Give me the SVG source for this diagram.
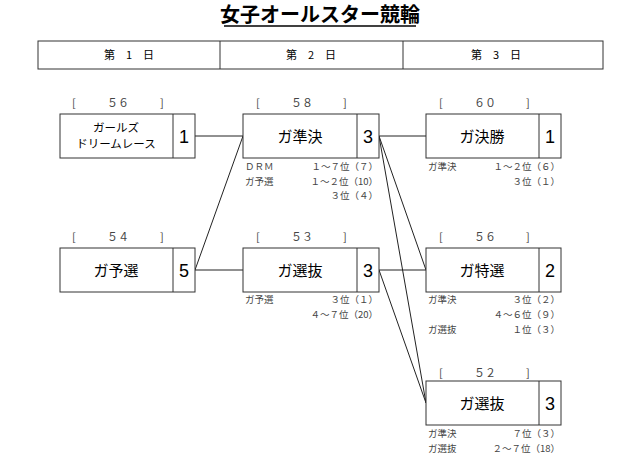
<svg xmlns="http://www.w3.org/2000/svg" width="640" height="459" viewBox="0 0 640 459">
<style>
text{font-family:"Noto Sans CJK JP","Liberation Sans",sans-serif;fill:#000}
.b{fill:#fff;stroke:#333;stroke-width:1}
.n{font-size:15px;text-anchor:middle}
.num{font-size:18px;text-anchor:middle;font-family:"Liberation Sans",sans-serif}
.s{font-size:9.5px;fill:#444}
.r{font-size:9.5px;fill:#444;text-anchor:end}
.h{font-size:11px;fill:#444}
.c line{stroke:#222;stroke-width:1}
</style>
<rect width="640" height="459" fill="#fff"/>
<text x="320" y="22" font-size="20" font-weight="bold" text-anchor="middle">女子オールスター競輪</text>
<line x1="224" y1="26" x2="416" y2="26" stroke="#000" stroke-width="1.5"/>
<g id="header">
<rect x="38" y="41" width="565" height="28" fill="none" stroke="#333"/>
<line x1="220" y1="41" x2="220" y2="69" stroke="#333"/>
<line x1="403" y1="41" x2="403" y2="69" stroke="#333"/>
<text x="129" y="59" font-size="11" text-anchor="middle">第　1　日</text>
<text x="311" y="59" font-size="11" text-anchor="middle">第　2　日</text>
<text x="496" y="59" font-size="11" text-anchor="middle">第　3　日</text>
</g>
<g class="c" id="connectors">
<line x1="195" y1="136" x2="243" y2="136"/>
<line x1="195" y1="270" x2="243" y2="136"/>
<line x1="195" y1="270" x2="243" y2="270"/>
<line x1="379" y1="136" x2="426" y2="136"/>
<line x1="379" y1="136" x2="426" y2="270"/>
<line x1="379" y1="136" x2="426" y2="403"/>
<line x1="379" y1="270" x2="426" y2="270"/>
<line x1="379" y1="270" x2="426" y2="403"/>
</g>
<g id="n56a">
<text x="72" y="107" class="h">[</text><text x="118" y="107" class="h" text-anchor="middle">５６</text><text x="160" y="107" class="h">]</text>
<rect x="60" y="114" width="135" height="44" class="b"/><line x1="173" y1="114" x2="173" y2="158" stroke="#333"/>
<text x="116" y="132" font-size="11.5" text-anchor="middle">ガールズ</text>
<text x="116" y="148" font-size="11.5" text-anchor="middle">ドリームレース</text>
<text x="184" y="143" class="num">1</text>
</g>
<g id="n54">
<text x="72" y="241" class="h">[</text><text x="118" y="241" class="h" text-anchor="middle">５４</text><text x="160" y="241" class="h">]</text>
<rect x="60" y="248" width="135" height="44" class="b"/><line x1="173" y1="248" x2="173" y2="292" stroke="#333"/>
<text x="116" y="276" class="n">ガ予選</text><text x="184" y="277" class="num">5</text>
</g>
<g id="n58">
<text x="256" y="107" class="h">[</text><text x="302" y="107" class="h" text-anchor="middle">５８</text><text x="343" y="107" class="h">]</text>
<rect x="243" y="114" width="136" height="44" class="b"/><line x1="357" y1="114" x2="357" y2="158" stroke="#333"/>
<text x="300" y="142" class="n">ガ準決</text><text x="368" y="143" class="num">3</text>
<text x="245" y="170" class="s">ＤＲＭ</text><text x="378" y="170" class="r">１～７位（７）</text>
<text x="245" y="185" class="s">ガ予選</text><text x="378" y="185" class="r">１～２位（10）</text>
<text x="378" y="199" class="r">３位（４）</text>
</g>
<g id="n53">
<text x="256" y="241" class="h">[</text><text x="302" y="241" class="h" text-anchor="middle">５３</text><text x="343" y="241" class="h">]</text>
<rect x="243" y="248" width="136" height="44" class="b"/><line x1="357" y1="248" x2="357" y2="292" stroke="#333"/>
<text x="300" y="276" class="n">ガ選抜</text><text x="368" y="277" class="num">3</text>
<text x="245" y="303" class="s">ガ予選</text><text x="378" y="303" class="r">３位（１）</text>
<text x="378" y="318" class="r">４～７位（20）</text>
</g>
<g id="n60">
<text x="439" y="107" class="h">[</text><text x="485" y="107" class="h" text-anchor="middle">６０</text><text x="526" y="107" class="h">]</text>
<rect x="426" y="114" width="135" height="44" class="b"/><line x1="539" y1="114" x2="539" y2="158" stroke="#333"/>
<text x="482" y="142" class="n">ガ決勝</text><text x="550" y="143" class="num">1</text>
<text x="428" y="170" class="s">ガ準決</text><text x="560" y="170" class="r">１～２位（６）</text>
<text x="560" y="185" class="r">３位（１）</text>
</g>
<g id="n56b">
<text x="439" y="241" class="h">[</text><text x="485" y="241" class="h" text-anchor="middle">５６</text><text x="526" y="241" class="h">]</text>
<rect x="426" y="248" width="135" height="44" class="b"/><line x1="539" y1="248" x2="539" y2="292" stroke="#333"/>
<text x="482" y="276" class="n">ガ特選</text><text x="550" y="277" class="num">2</text>
<text x="428" y="303" class="s">ガ準決</text><text x="560" y="303" class="r">３位（２）</text>
<text x="560" y="318" class="r">４～６位（９）</text>
<text x="428" y="333" class="s">ガ選抜</text><text x="560" y="333" class="r">１位（３）</text>
</g>
<g id="n52">
<text x="439" y="377" class="h">[</text><text x="485" y="377" class="h" text-anchor="middle">５２</text><text x="526" y="377" class="h">]</text>
<rect x="426" y="381" width="135" height="44" class="b"/><line x1="539" y1="381" x2="539" y2="425" stroke="#333"/>
<text x="482" y="409" class="n">ガ選抜</text><text x="550" y="410" class="num">3</text>
<text x="428" y="437" class="s">ガ準決</text><text x="560" y="437" class="r">７位（３）</text>
<text x="428" y="452" class="s">ガ選抜</text><text x="560" y="452" class="r">２～７位（18）</text>
</g>
</svg>
